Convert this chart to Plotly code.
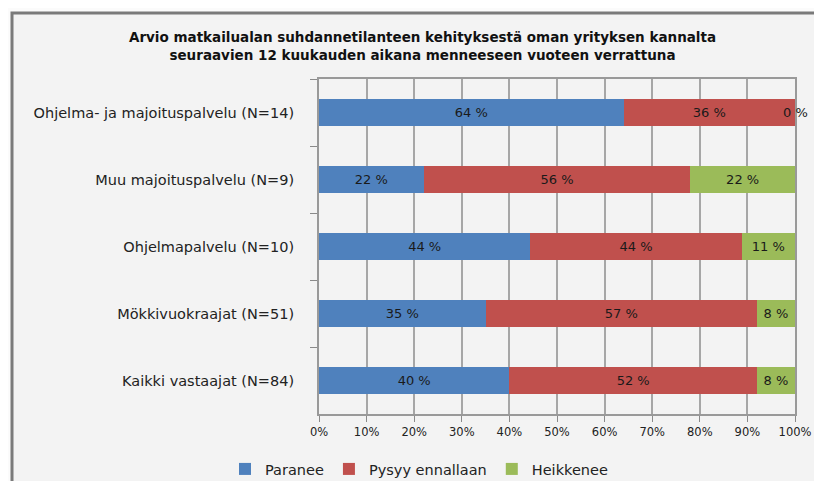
import plotly.graph_objects as go

categories = [
    "Ohjelma- ja majoituspalvelu (N=14)",
    "Muu majoituspalvelu (N=9)",
    "Ohjelmapalvelu (N=10)",
    "Mökkivuokraajat (N=51)",
    "Kaikki vastaajat (N=84)",
]
paranee = [64, 22, 44.4, 35, 40]
pysyy = [36, 56, 44.4, 57, 52]
heikkenee = [0, 22, 11.2, 8, 8]
series_names = ["Paranee", "Pysyy ennallaan", "Heikkenee"]
colors = ["#4F81BD", "#C0504D", "#9BBB59"]
x_ticks = list(range(0, 101, 10))
x_ticktext = [f"{t}%" for t in x_ticks]

title_text = ("<b>Arvio matkailualan suhdannetilanteen kehityksestä oman yrityksen kannalta<br>"
              "seuraavien 12 kuukauden aikana menneeseen vuoteen verrattuna</b>")

FONT = "DejaVu Sans"
SH = 8  # page offset compensation (body margin)
W, H = 822 - SH, 489 - 2 * SH
fig = go.Figure()
series = [paranee, pysyy, heikkenee]
for name, vals, col in zip(series_names, series, colors):
    fig.add_trace(go.Bar(
        y=categories, x=vals, name=name, orientation="h",
        marker=dict(color=col, line=dict(width=0)),
        text=[f"{v:.0f} %" if v > 0 else "" for v in vals],
        textposition="inside", insidetextanchor="middle",
        textfont=dict(family=FONT, size=13, color="#1a1a1a"),
        constraintext="none",
    ))

annotations = []
for i, cat in enumerate(categories):
    cum = 0
    for vals in series:
        v = vals[i]
        if v == 0:
            annotations.append(dict(x=cum, y=cat, text="0 %", showarrow=False,
                                    xanchor="center", yanchor="middle",
                                    font=dict(family=FONT, size=13, color="#1a1a1a")))
        cum += v

pw, ph = 476, 335
L, T = 319 - SH, 79 - SH
shapes = [
    dict(type="rect", xref="paper", yref="paper",
         x0=(12 - SH - L) / pw, x1=(900 - L) / pw,
         y0=-(560 - (T + ph)) / ph, y1=1 + (T - (13 - SH)) / ph,
         fillcolor="#f3f3f3", line=dict(color="#7a7a7a", width=3), layer="below"),
]

fig.update_layout(
    barmode="stack",
    width=W, height=H,
    margin=dict(l=L, r=W - L - pw, t=T, b=H - T - ph, autoexpand=False),
    paper_bgcolor="#fbfbfb",
    plot_bgcolor="#f8f8f8",
    bargap=0.61,
    font=dict(family=FONT, size=12, color="#222"),
    title=dict(text=title_text, xref="container", x=(422.5 - SH) / W, xanchor="center",
               yref="container", y=1 - 34 / H, yanchor="top",
               font=dict(family=FONT, size=13.5, color="#111")),
    legend=dict(orientation="h", xref="container", x=411 / W, xanchor="center",
                yref="container", y=1 - 461 / H, yanchor="middle",
                font=dict(family=FONT, size=14.5, color="#222"),
                bgcolor="rgba(0,0,0,0)", itemwidth=30, traceorder="normal"),
    shapes=shapes,
    annotations=annotations,
    showlegend=True,
)
fig.update_xaxes(range=[0, 100], tickvals=x_ticks, ticktext=x_ticktext,
                 showgrid=True, gridcolor="#a6a6a6", gridwidth=1.5,
                 ticks="outside", ticklen=6, tickcolor="#8a8a8a",
                 showline=True, mirror=True, linecolor="#999999", linewidth=2,
                 tickfont=dict(family=FONT, size=11.5, color="#222"), zeroline=False,
                 automargin=False)
fig.update_yaxes(autorange="reversed", ticks="outside", tickson="boundaries",
                 ticklen=7, tickcolor="#8a8a8a", showgrid=False,
                 showline=True, mirror=True, linecolor="#999999", linewidth=2,
                 tickfont=dict(family=FONT, size=14.5, color="#222"), ticklabelstandoff=20,
                 automargin=False)

fig.write_html("out.html")
